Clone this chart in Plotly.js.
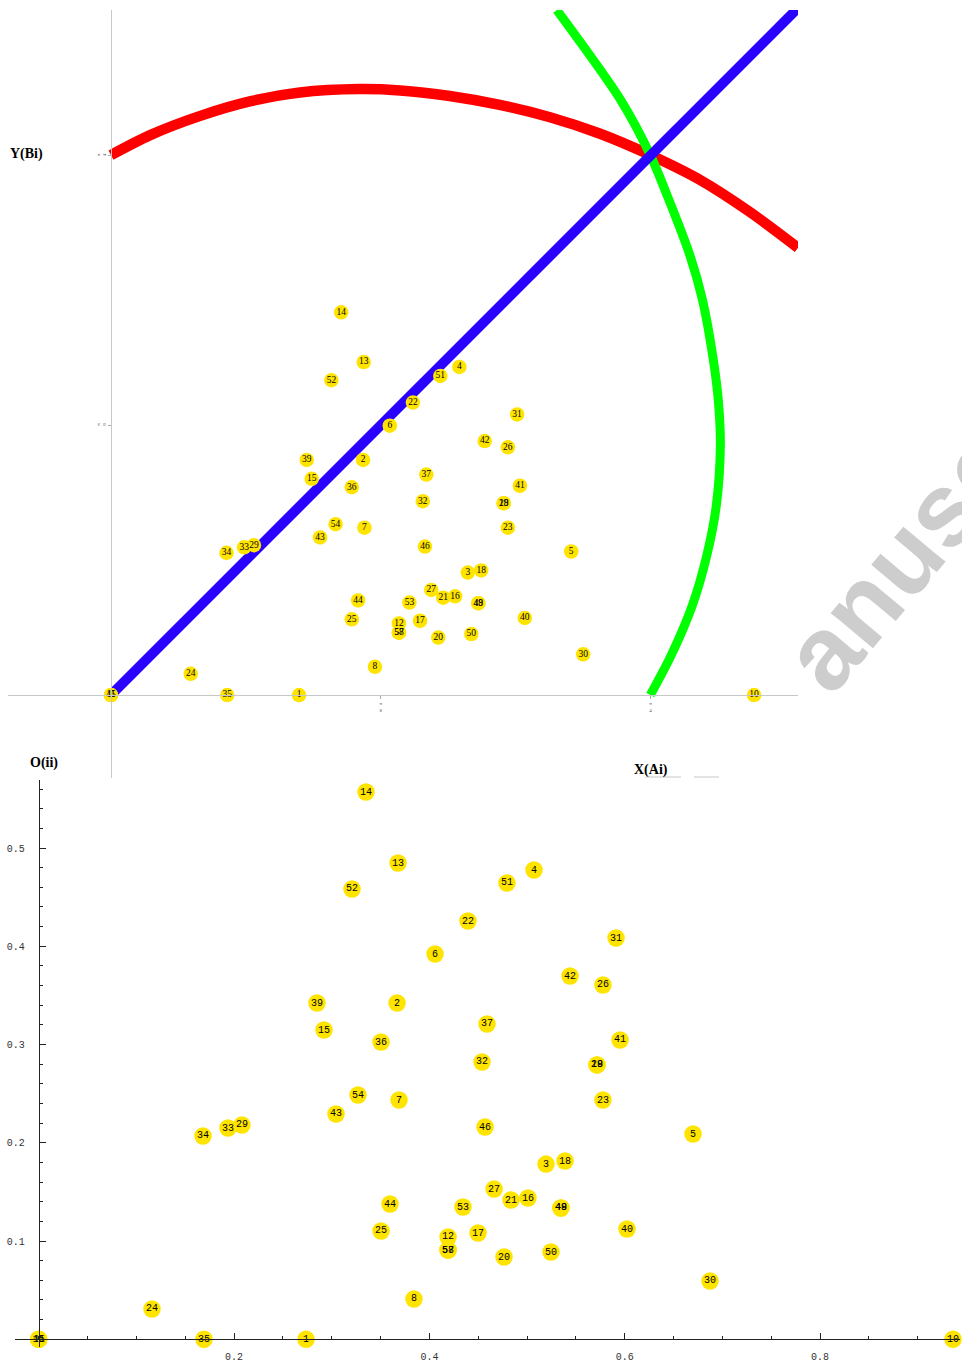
<!DOCTYPE html>
<html>
<head>
<meta charset="utf-8">
<script src="https://cdn.plot.ly/plotly-3.0.1.min.js"></script>
<style>html,body{margin:0;padding:0;background:#fff;}#chart{width:962px;height:1364px;}</style>
</head>
<body>
<div id="chart"></div>
<script>
// ---- data ----
const pointLabels = ['14','13','4','51','52','22','31','6','42','26','39','2','37','15','36','41','32','19','28','54','7','23','43','46','29','33','34','5','18','3','27','21','16','44','53','48','49','40','25','12','17','57','58','20','50','30','24','8','11','45','35','1','10'];
const pointX = [0.3351,0.3679,0.5071,0.4794,0.3208,0.4395,0.5911,0.4058,0.5440,0.5777,0.2849,0.3669,0.4590,0.2921,0.3505,0.5952,0.4539,0.5716,0.5716,0.3269,0.3689,0.5777,0.3044,0.4570,0.2081,0.1938,0.1682,0.6699,0.5389,0.5194,0.4662,0.4836,0.5009,0.3597,0.4344,0.5347,0.5347,0.6023,0.3505,0.4191,0.4498,0.4191,0.4191,0.4764,0.5245,0.6873,0.1160,0.3842,0,0,0.1692,0.2737,0.9361];
const pointY = [0.5570,0.4847,0.4776,0.4644,0.4583,0.4257,0.4084,0.3921,0.3697,0.3606,0.3422,0.3422,0.3209,0.3147,0.3025,0.3046,0.2822,0.2792,0.2792,0.2486,0.2435,0.2435,0.2293,0.2160,0.2181,0.2150,0.2069,0.2089,0.1814,0.1783,0.1529,0.1417,0.1437,0.1376,0.1346,0.1336,0.1336,0.1122,0.1102,0.1041,0.1081,0.0908,0.0908,0.0837,0.0888,0.0593,0.0308,0.0410,0,0,0,0,0];

const redX = [0,0.057,0.130,0.202,0.275,0.361,0.421,0.493,0.566,0.639,0.712,0.785,0.857,0.930,1.0];
const redY = [0.786,0.815,0.843,0.864,0.877,0.882,0.880,0.872,0.859,0.841,0.817,0.786,0.750,0.703,0.651];
const greenX = [0.785,0.815,0.846,0.867,0.881,0.887,0.884,0.876,0.861,0.843,0.812,0.785,0.742,0.649];
const greenY = [0,0.057,0.130,0.202,0.275,0.364,0.429,0.493,0.575,0.639,0.721,0.786,0.866,0.997];
const blueX = [0,1.0];
const blueY = [0,1.0];

const topTickVals = [Math.PI/8, Math.PI/4];
const topTickText = ['π<br>8','π<br>4'];
const botXTicks = [0.2,0.4,0.6,0.8];
const botXText = ['0.2','0.4','0.6','0.8'];
const botYTicks = [0.1,0.2,0.3,0.4,0.5];
const botYText = ['0.1','0.2','0.3','0.4','0.5'];

// ---- page geometry (pixels) ----
const W = 962, H = 1364;
const px = v => v / W;
const py = v => 1 - v / H;

const yellow = '#ffe400';

const traces = [
  {x: redX, y: redY, xaxis:'x', yaxis:'y', mode:'lines', line:{color:'#ff0000', width:10.5, shape:'spline', smoothing:0.8}, hoverinfo:'skip'},
  {x: greenX, y: greenY, xaxis:'x', yaxis:'y', mode:'lines', line:{color:'#00ff00', width:9, shape:'spline', smoothing:0.8}, hoverinfo:'skip'},
  {x: blueX, y: blueY, xaxis:'x', yaxis:'y', mode:'lines', line:{color:'#2a00ff', width:10}, hoverinfo:'skip'},
  {x: pointX, y: pointY, text: pointLabels, xaxis:'x', yaxis:'y', mode:'markers+text', textposition:'middle center',
   marker:{color:yellow, size:14.5, line:{width:0}}, textfont:{family:'Liberation Serif', size:9.5, color:'#000'}, cliponaxis:false},
  {x: pointX, y: pointY, text: pointLabels, xaxis:'x2', yaxis:'y2', mode:'markers+text', textposition:'middle center',
   marker:{color:yellow, size:17.5, line:{width:0}}, textfont:{family:'Liberation Mono', size:10, color:'#000'}, cliponaxis:false}
];

const layout = {
  width: W, height: H,
  margin: {l:0, r:0, t:0, b:0, pad:0},
  showlegend: false,
  paper_bgcolor: '#fff', plot_bgcolor: '#fff',
  xaxis: {domain:[px(8), px(798)], range:[-0.1499, 1.0], anchor:'free', position: py(695),
    showgrid:false, zeroline:false, showline:true, linecolor:'#c8c8c8', linewidth:1,
    tickmode:'array', tickvals: topTickVals, ticktext: topTickText, ticks:'outside', ticklen:3, tickcolor:'#aaa',
    tickfont:{family:'Liberation Serif', size:5, color:'#555'}, automargin:false, fixedrange:true},
  yaxis: {domain:[py(778), py(10)], range:[-0.1208, 0.9971], anchor:'free', position: px(111),
    showgrid:false, zeroline:false, showline:true, linecolor:'#c8c8c8', linewidth:1,
    tickmode:'array', tickvals: topTickVals, ticktext: topTickText, ticks:'outside', ticklen:3, tickcolor:'#aaa',
    tickfont:{family:'Liberation Serif', size:5, color:'#555'}, tickangle:-90, automargin:false, fixedrange:true},
  xaxis2: {domain:[px(15), px(960)], range:[-0.02427, 0.94326], anchor:'free', position: py(1339.25),
    showgrid:false, zeroline:false, showline:true, linecolor:'#222', linewidth:1,
    tickmode:'array', tickvals: botXTicks, ticktext: botXText, ticks:'inside', ticklen:6, tickcolor:'#222', tickwidth:1,
    minor:{dtick:0.05, tick0:0, ticks:'inside', ticklen:3, tickcolor:'#222', showgrid:false},
    tickfont:{family:'Liberation Mono', size:10, color:'#333'}, ticklabelstandoff:8, automargin:false, fixedrange:true},
  yaxis2: {domain:[py(1347), py(780)], range:[-0.00789, 0.56921], anchor:'free', position: px(38.7),
    showgrid:false, zeroline:false, showline:true, linecolor:'#222', linewidth:1,
    tickmode:'array', tickvals: botYTicks, ticktext: botYText, ticks:'inside', ticklen:6, tickcolor:'#222', tickwidth:1,
    minor:{dtick:0.02, tick0:0, ticks:'inside', ticklen:3, tickcolor:'#222', showgrid:false},
    tickfont:{family:'Liberation Mono', size:10, color:'#333'}, ticklabelstandoff:12, automargin:false, fixedrange:true},
  annotations: [
    {text:'<b>Y(Bi)</b>', xref:'paper', yref:'paper', x:px(8), y:py(154), xanchor:'left', yanchor:'middle', showarrow:false,
     font:{family:'Liberation Serif', size:14, color:'#000'}},
    {text:'<b>O(ii)</b>', xref:'paper', yref:'paper', x:px(28), y:py(763), xanchor:'left', yanchor:'middle', showarrow:false,
     font:{family:'Liberation Serif', size:14, color:'#000'}},
    {text:'<b>X(Ai)</b>', xref:'paper', yref:'paper', x:px(632), y:py(770), xanchor:'left', yanchor:'middle', showarrow:false,
     font:{family:'Liberation Serif', size:14, color:'#000'}},
    {text:'<b>anusc</b>', xref:'paper', yref:'paper', x:px(900), y:py(560), xanchor:'center', yanchor:'middle', showarrow:false,
     textangle:-50, font:{family:'Liberation Sans', size:104, color:'#cdcdcd'}}
  ],
  shapes: [
    {type:'line', xref:'paper', yref:'paper', x0:px(645), x1:px(681), y0:py(777), y1:py(777), line:{color:'#c8c8c8', width:1}},
    {type:'line', xref:'paper', yref:'paper', x0:px(694), x1:px(719), y0:py(777), y1:py(777), line:{color:'#c8c8c8', width:1}}
  ]
};

Plotly.newPlot('chart', traces, layout, {displayModeBar:false, staticPlot:true});
</script>
</body>
</html>
